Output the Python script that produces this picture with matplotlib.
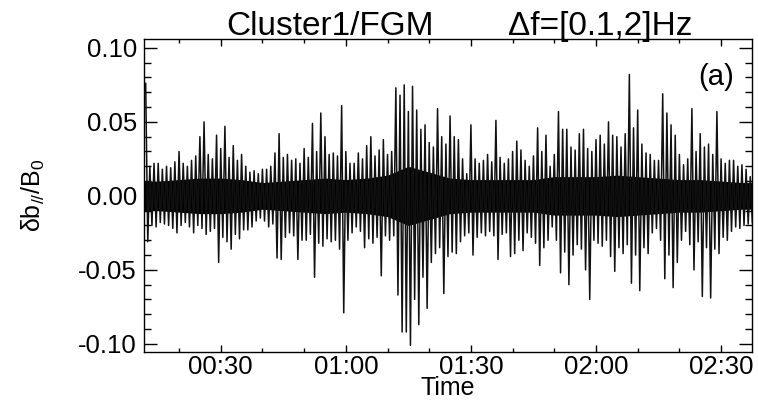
import numpy as np
import matplotlib; matplotlib.use("Agg")
import matplotlib.pyplot as plt
from matplotlib.ticker import MultipleLocator, FuncFormatter

plt.rcParams["font.family"] = ["Liberation Sans", "DejaVu Sans"]
plt.rcParams["mathtext.default"] = "regular"

# time in minutes after 00:00 UT, one sample pair (max, min) per minute
t_min = np.arange(12, 158)
hi = [0.076, 0.020, 0.022, 0.022, 0.018, 0.020, 0.019, 0.023, 0.030, 0.022,
      0.020, 0.024, 0.027, 0.040, 0.050, 0.028, 0.025, 0.041, 0.032, 0.047,
      0.026, 0.034, 0.024, 0.028, 0.020, 0.016, 0.017, 0.015, 0.018, 0.018,
      0.020, 0.029, 0.042, 0.026, 0.028, 0.024, 0.025, 0.022, 0.032, 0.026,
      0.049, 0.030, 0.056, 0.040, 0.028, 0.029, 0.027, 0.061, 0.030, 0.022,
      0.022, 0.029, 0.025, 0.034, 0.040, 0.027, 0.031, 0.038, 0.028, 0.030,
      0.073, 0.068, 0.075, 0.057, 0.074, 0.058, 0.045, 0.048, 0.036, 0.033,
      0.059, 0.040, 0.035, 0.054, 0.040, 0.038, 0.025, 0.015, 0.048, 0.025,
      0.022, 0.024, 0.028, 0.023, 0.051, 0.026, 0.022, 0.025, 0.030, 0.037,
      0.031, 0.024, 0.020, 0.027, 0.046, 0.030, 0.041, 0.020, 0.028, 0.057,
      0.045, 0.045, 0.033, 0.031, 0.042, 0.045, 0.032, 0.030, 0.038, 0.041,
      0.035, 0.050, 0.041, 0.040, 0.033, 0.042, 0.082, 0.046, 0.058, 0.035,
      0.029, 0.028, 0.024, 0.024, 0.069, 0.056, 0.048, 0.041, 0.028, 0.021,
      0.025, 0.059, 0.030, 0.042, 0.033, 0.035, 0.028, 0.057, 0.025, 0.022,
      0.024, 0.024, 0.020, 0.021, 0.018, 0.013]
lo = [-0.031, -0.020, -0.021, -0.018, -0.019, -0.020, -0.022, -0.025, -0.020, -0.018,
      -0.021, -0.025, -0.020, -0.022, -0.026, -0.024, -0.022, -0.045, -0.028, -0.031,
      -0.036, -0.026, -0.029, -0.023, -0.023, -0.021, -0.017, -0.015, -0.017, -0.021,
      -0.019, -0.042, -0.043, -0.028, -0.025, -0.027, -0.043, -0.030, -0.030, -0.026,
      -0.055, -0.032, -0.034, -0.029, -0.031, -0.030, -0.036, -0.079, -0.030, -0.025,
      -0.021, -0.024, -0.035, -0.029, -0.032, -0.028, -0.054, -0.027, -0.030, -0.027,
      -0.067, -0.092, -0.092, -0.101, -0.070, -0.087, -0.055, -0.076, -0.045, -0.039,
      -0.035, -0.066, -0.041, -0.038, -0.039, -0.031, -0.027, -0.025, -0.040, -0.028,
      -0.025, -0.027, -0.024, -0.027, -0.043, -0.026, -0.025, -0.041, -0.039, -0.030,
      -0.037, -0.025, -0.028, -0.032, -0.047, -0.035, -0.030, -0.021, -0.030, -0.052,
      -0.038, -0.060, -0.040, -0.033, -0.036, -0.050, -0.070, -0.030, -0.032, -0.034,
      -0.030, -0.041, -0.051, -0.035, -0.039, -0.033, -0.059, -0.040, -0.064, -0.035,
      -0.039, -0.025, -0.022, -0.030, -0.056, -0.040, -0.062, -0.045, -0.030, -0.024,
      -0.033, -0.050, -0.031, -0.068, -0.035, -0.069, -0.036, -0.039, -0.028, -0.030,
      -0.024, -0.021, -0.022, -0.020, -0.019, -0.018]

# dense core amplitude every 5 minutes
core_t = np.arange(10, 161, 5)
core_amp = [0.010, 0.010, 0.011, 0.012, 0.012, 0.011, 0.009, 0.010, 0.011, 0.012,
            0.011, 0.012, 0.014, 0.020, 0.016, 0.012, 0.011, 0.011, 0.011, 0.011,
            0.013, 0.013, 0.013, 0.014, 0.013, 0.012, 0.011, 0.011, 0.010, 0.009,
            0.009]

# interleave max / min into one trace
tt = np.ravel(np.column_stack([t_min, t_min + 0.5]))
yy = np.ravel(np.column_stack([hi, lo]))
ca = np.array(core_amp)

fig = plt.figure(figsize=(7.58, 4.01), dpi=100)
ax = fig.add_axes([0.19, 0.1222, 0.802, 0.7805])
ax.fill_between(core_t, -ca, ca, color="black", lw=0)
ax.plot(tt, yy, color="#111111", lw=1.1)

ax.set_xlim(11.6, 157.4)
ax.set_ylim(-0.1055, 0.106)
ax.xaxis.set_major_locator(MultipleLocator(30))
ax.xaxis.set_minor_locator(MultipleLocator(10))
ax.yaxis.set_major_locator(MultipleLocator(0.05))
ax.yaxis.set_minor_locator(MultipleLocator(0.01))
ax.xaxis.set_major_formatter(FuncFormatter(lambda v, p: "%02d:%02d" % (int(v) // 60, int(v) % 60)))
ax.yaxis.set_major_formatter(FuncFormatter(lambda v, p: ("%.2f" % v).replace("-0.00", "0.00")))
ax.tick_params(which="both", direction="in", top=True, right=True, width=1, labelsize=18.5)
ax.tick_params(axis="x", which="major", length=5, pad=2)
ax.tick_params(axis="x", which="minor", length=3)
ax.tick_params(axis="y", which="major", length=9.5, pad=5)
ax.tick_params(axis="y", which="minor", length=5)
for s in ax.spines.values():
    s.set_linewidth(1)

ax.set_ylabel("δb$_{//}$/B$_0$", fontsize=18)
ax.yaxis.set_label_coords(-0.16, 0.5)
ax.set_xlabel("Time", fontsize=18)
ax.xaxis.set_label_coords(0.5, -0.078)
ax.text(0.970, 0.880, "(a)", transform=ax.transAxes, ha="right", va="center", fontsize=21)

fig.text(0.4347, 0.9127, "Cluster1/FGM", ha="center", va="baseline", fontsize=24)
fig.text(0.670, 0.9127, "Δf=[0.1,2]Hz", ha="left", va="baseline", fontsize=24)

fig.savefig("out.png", dpi=100)
